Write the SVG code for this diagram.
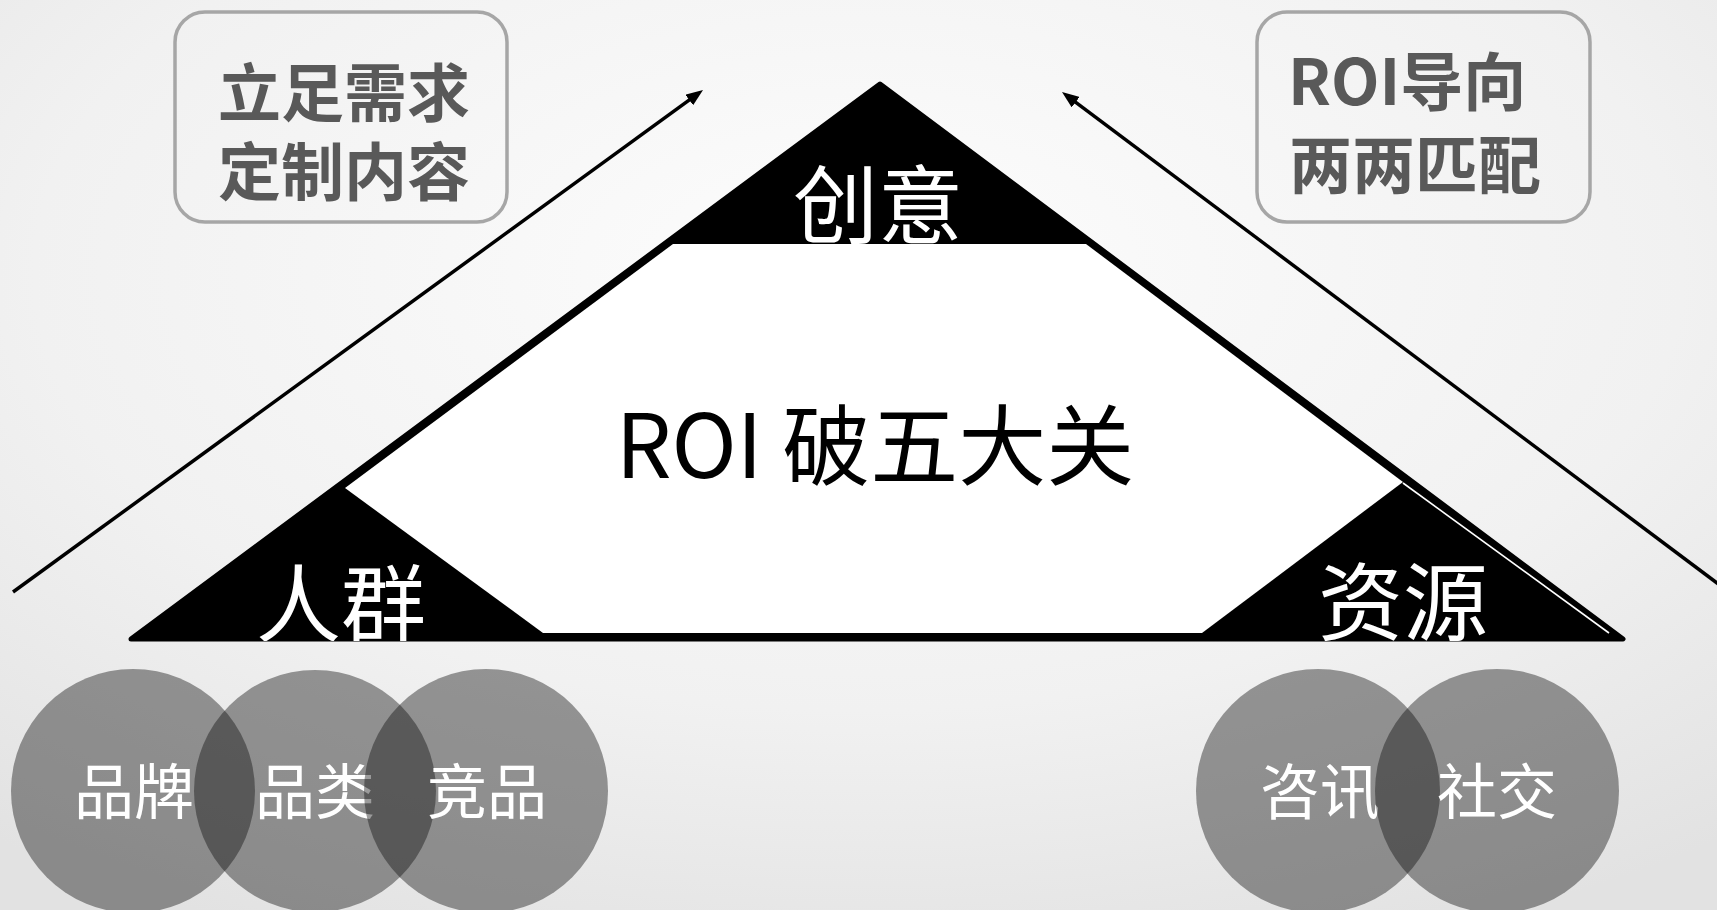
<svg xmlns="http://www.w3.org/2000/svg" width="1717" height="910" viewBox="0 0 1717 910">
  <defs>
    <radialGradient id="bg" cx="50%" cy="30%" r="80%" gradientUnits="objectBoundingBox">
      <stop offset="0" stop-color="#fdfdfd"/>
      <stop offset="0.6" stop-color="#f1f1f1"/>
      <stop offset="1" stop-color="#e2e2e2"/>
    </radialGradient>
    <marker id="arrow" markerUnits="userSpaceOnUse" markerWidth="18" markerHeight="13" refX="1" refY="6.5" orient="auto">
      <path d="M0,0 L17,6.5 L0,13 z" fill="#000"/>
    </marker>
    <clipPath id="tri-clip">
      <rect x="0" y="0" width="1717" height="641"/>
    </clipPath>
    <style>
      .box { fill: none; stroke: #a6a6a6; stroke-width: 3.5; }
      .boxtxt { font-family: "Noto Sans CJK SC", "Noto Sans", sans-serif; font-weight: 700; font-size: 63px; fill: #595959; }
      .tri { fill: #000; stroke: #000; stroke-width: 5; stroke-linejoin: round; }
      .core { fill: #fff; }
      .trilabel { font-family: "Noto Sans CJK SC", "Noto Sans", sans-serif; font-size: 85px; fill: #fff; text-anchor: middle; }
      .title { font-family: "Noto Sans CJK SC", "Noto Sans", sans-serif; font-size: 88px; fill: #000; text-anchor: middle; }
      .circle { fill: #0c0c0c; fill-opacity: 0.41; }
      .ctxt { font-family: "Noto Sans CJK SC", "Noto Sans", sans-serif; font-size: 60px; fill: #fff; text-anchor: middle; }
      .conn { stroke: #000; stroke-width: 3.5; fill: none; marker-end: url(#arrow); }
    </style>
  </defs>

  <rect x="0" y="0" width="1717" height="910" fill="url(#bg)"/>

  <g id="box-left">
    <rect class="box" x="175" y="12" width="332" height="210" rx="30" ry="30"/>
    <text class="boxtxt" x="218" y="116" font-size="64">立足需求</text>
    <text class="boxtxt" x="218" y="195" font-size="64">定制内容</text>
  </g>

  <g id="box-right">
    <rect class="box" x="1257" y="12" width="333" height="210" rx="30" ry="30"/>
    <text class="boxtxt" x="1288" y="105" font-size="66">ROI导向</text>
    <text class="boxtxt" x="1289" y="188" font-size="64">两两匹配</text>
  </g>

  <g id="pyramid">
    <polygon class="tri" points="880,84 1623,639 131,639"/>
    <polygon class="core" points="673,244 1086,244 1403,482 1202,633 543,633 345,488"/>
    <line x1="1403" y1="483" x2="1609" y2="633" stroke="#fff" stroke-width="1.6"/>
  </g>

  <g id="label-creative" clip-path="url(#tri-clip)">
    <text class="trilabel" x="878" y="237">创意</text>
  </g>
  <g id="label-crowd" clip-path="url(#tri-clip)">
    <text class="trilabel" x="341" y="636">人群</text>
  </g>
  <g id="label-resource" clip-path="url(#tri-clip)">
    <text class="trilabel" x="1403" y="634">资源</text>
  </g>

  <g id="title">
    <text class="title" x="875" y="478">ROI 破五大关</text>
  </g>

  <g id="connectors">
    <line class="conn" x1="13" y1="592" x2="690.1" y2="99.4"/>
    <line class="conn" x1="1725" y1="589" x2="1074.8" y2="101.6"/>
  </g>

  <g id="circle-brand">
    <circle class="circle" cx="133" cy="791" r="122"/>
    <text class="ctxt" x="134" y="814">品牌</text>
  </g>
  <g id="circle-category">
    <circle class="circle" cx="315" cy="791" r="121"/>
    <text class="ctxt" x="315" y="814">品类</text>
  </g>
  <g id="circle-competitor">
    <circle class="circle" cx="486" cy="791" r="122"/>
    <text class="ctxt" x="487" y="814">竞品</text>
  </g>
  <g id="circle-info">
    <circle class="circle" cx="1318" cy="791" r="122"/>
    <text class="ctxt" x="1320" y="814">咨讯</text>
  </g>
  <g id="circle-social">
    <circle class="circle" cx="1497" cy="791" r="122"/>
    <text class="ctxt" x="1497" y="814">社交</text>
  </g>
</svg>
